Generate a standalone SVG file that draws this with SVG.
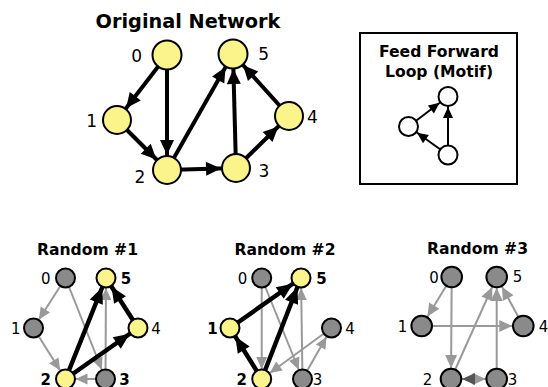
<svg xmlns="http://www.w3.org/2000/svg" width="548" height="387" viewBox="0 0 548 387">
<style>
text{font-family:"DejaVu Sans","Liberation Sans",sans-serif;fill:#000}
.title{font-weight:bold;text-anchor:middle}
.lbl{text-anchor:middle}
.b{font-weight:bold}
.ny{fill:#FAF48A;stroke:#000;stroke-width:2}
.ng{fill:#8A8A8A;stroke:#000;stroke-width:2}
.nw{fill:#fff;stroke:#000;stroke-width:2}
.eo{stroke:#000;stroke-width:4;fill:none;marker-end:url(#mO)}
.em{stroke:#000;stroke-width:2;fill:none;marker-end:url(#mM)}
.eb{stroke:#000;stroke-width:4.5;fill:none;marker-end:url(#mB)}
.eg{stroke:#999;stroke-width:2;fill:none;marker-end:url(#mG)}
.eg3{stroke:#999;stroke-width:2;fill:none;marker-end:url(#mG3)}
.ed3{stroke:#999;stroke-width:2;fill:none;marker-end:url(#mD3)}
</style>
<defs>
<marker id="mO" markerUnits="userSpaceOnUse" markerWidth="15" markerHeight="14" refX="30" refY="7" orient="auto" overflow="visible"><path d="M0,0 L15,7 L0,14 z" fill="#000"/></marker>
<marker id="mM" markerUnits="userSpaceOnUse" markerWidth="11" markerHeight="10" refX="21.5" refY="5" orient="auto" overflow="visible"><path d="M0,0 L11,5 L0,10 z" fill="#000"/></marker>
<marker id="mB" markerUnits="userSpaceOnUse" markerWidth="16" markerHeight="14" refX="26" refY="7" orient="auto" overflow="visible"><path d="M0,0 L16,7 L0,14 z" fill="#000"/></marker>
<marker id="mG" markerUnits="userSpaceOnUse" markerWidth="12" markerHeight="11" refX="22" refY="5.5" orient="auto" overflow="visible"><path d="M0,0 L12,5.5 L0,11 z" fill="#999"/></marker>
<marker id="mG3" markerUnits="userSpaceOnUse" markerWidth="13" markerHeight="12" refX="24" refY="6" orient="auto" overflow="visible"><path d="M0,0 L13,6 L0,12 z" fill="#999"/></marker>
<marker id="mD3" markerUnits="userSpaceOnUse" markerWidth="13" markerHeight="12" refX="24" refY="6" orient="auto" overflow="visible"><path d="M0,0 L13,6 L0,12 z" fill="#555"/></marker>
</defs>

<text class="title" x="188" y="28" font-size="19.3">Original Network</text>
<rect x="360" y="33" width="157" height="151" fill="#fff" stroke="#000" stroke-width="2"/>
<text class="title" x="439" y="56.5" font-size="15.6">Feed Forward</text>
<text class="title" x="439" y="76.5" font-size="15.6">Loop (Motif)</text>
<text class="title" x="87.5" y="255" font-size="15.6">Random #1</text>
<text class="title" x="285" y="255" font-size="15.6">Random #2</text>
<text class="title" x="477.5" y="254" font-size="15.6">Random #3</text>

<g id="connectors">
  <!-- original -->
  <line class="eo" x1="167" y1="55" x2="117" y2="120"/>
  <line class="eo" x1="167" y1="55" x2="167" y2="170"/>
  <line class="eo" x1="117" y1="120" x2="167" y2="170"/>
  <line class="eo" x1="167" y1="170" x2="236" y2="168"/>
  <line class="eo" x1="167" y1="170" x2="233" y2="54"/>
  <line class="eo" x1="236" y1="168" x2="233" y2="54"/>
  <line class="eo" x1="236" y1="168" x2="289" y2="116"/>
  <line class="eo" x1="289" y1="116" x2="233" y2="54"/>
  <!-- motif -->
  <line class="em" x1="448" y1="155" x2="408.5" y2="126.5"/>
  <line class="em" x1="408.5" y1="126.5" x2="448" y2="96.5"/>
  <line class="em" x1="448" y1="155" x2="448" y2="96.5"/>
  <!-- random 1 -->
  <line class="eg" x1="65.5" y1="278" x2="33.5" y2="328"/>
  <line class="eg" x1="33.5" y1="328" x2="65.5" y2="379"/>
  <line class="eg" x1="65.5" y1="278" x2="105.5" y2="379"/>
  <line class="eg" x1="105.5" y1="379" x2="106" y2="278"/>
  <line class="eg" x1="105.5" y1="379" x2="65.5" y2="379"/>
  <line class="eb" x1="65.5" y1="379" x2="106" y2="278"/>
  <line class="eb" x1="65.5" y1="379" x2="138" y2="328"/>
  <line class="eb" x1="138" y1="328" x2="106" y2="278"/>
  <!-- random 2 -->
  <line class="eg" x1="261.7" y1="278" x2="261.7" y2="379"/>
  <line class="eg" x1="261.7" y1="278" x2="302.5" y2="379"/>
  <line class="eg" x1="302.5" y1="379" x2="301" y2="278"/>
  <line class="eg" x1="331.5" y1="328" x2="261.7" y2="379"/>
  <line class="eg" x1="302.5" y1="379" x2="331.5" y2="328"/>
  <line class="eb" x1="261.7" y1="379" x2="230" y2="328"/>
  <line class="eb" x1="230" y1="328" x2="301" y2="278"/>
  <line class="eb" x1="261.7" y1="379" x2="301" y2="278"/>
  <!-- random 3 -->
  <line class="eg3" x1="451.7" y1="277" x2="421.7" y2="326"/>
  <line class="eg3" x1="451.7" y1="277" x2="451" y2="379"/>
  <line class="eg3" x1="421.7" y1="326" x2="523.3" y2="326"/>
  <line class="eg3" x1="451" y1="379" x2="496.7" y2="277"/>
  <line class="eg3" x1="496.7" y1="379" x2="496.7" y2="277"/>
  <line class="eg3" x1="523.3" y1="326" x2="496.7" y2="277"/>
  <line class="eg3" x1="451" y1="379" x2="496.7" y2="379"/>
  <line class="ed3" x1="496.7" y1="379" x2="451" y2="379"/>
</g>

<g id="orig-0"><circle class="ny" cx="167" cy="55" r="14.5"/><text class="lbl" x="136.7" y="62" font-size="17">0</text></g>
<g id="orig-1"><circle class="ny" cx="117" cy="120" r="14"/><text class="lbl" x="91.7" y="126.7" font-size="17">1</text></g>
<g id="orig-2"><circle class="ny" cx="167" cy="170" r="14"/><text class="lbl" x="140" y="182.5" font-size="17">2</text></g>
<g id="orig-3"><circle class="ny" cx="236" cy="168" r="14"/><text class="lbl" x="263.8" y="177.3" font-size="17">3</text></g>
<g id="orig-4"><circle class="ny" cx="289" cy="116" r="14"/><text class="lbl" x="312.3" y="123.3" font-size="17">4</text></g>
<g id="orig-5"><circle class="ny" cx="233" cy="54" r="14.5"/><text class="lbl" x="263.7" y="59.5" font-size="17">5</text></g>

<g id="motif-top"><circle class="nw" cx="448" cy="96.5" r="9.5"/></g>
<g id="motif-left"><circle class="nw" cx="408.5" cy="126.5" r="9.5"/></g>
<g id="motif-bottom"><circle class="nw" cx="448" cy="155" r="9.5"/></g>

<g id="r1-0"><circle class="ng" cx="65.5" cy="278" r="9.5"/><text class="lbl" x="45.8" y="283.5" font-size="15">0</text></g>
<g id="r1-1"><circle class="ng" cx="33.5" cy="328" r="9.5"/><text class="lbl" x="15.8" y="333.5" font-size="15">1</text></g>
<g id="r1-2"><circle class="ny" cx="65.5" cy="379" r="9.5"/><text class="lbl b" x="45.8" y="384.5" font-size="15">2</text></g>
<g id="r1-3"><circle class="ng" cx="105.5" cy="379" r="9.5"/><text class="lbl b" x="124.5" y="384.5" font-size="15">3</text></g>
<g id="r1-4"><circle class="ny" cx="138" cy="328" r="9.5"/><text class="lbl" x="156" y="333.5" font-size="15">4</text></g>
<g id="r1-5"><circle class="ny" cx="106" cy="278" r="9.5"/><text class="lbl b" x="126" y="283.5" font-size="15">5</text></g>

<g id="r2-0"><circle class="ng" cx="261.7" cy="278" r="9.5"/><text class="lbl" x="242.5" y="283.5" font-size="15">0</text></g>
<g id="r2-1"><circle class="ny" cx="230" cy="328" r="9.5"/><text class="lbl b" x="212.5" y="333.5" font-size="15">1</text></g>
<g id="r2-2"><circle class="ny" cx="261.7" cy="379" r="9.5"/><text class="lbl b" x="241.7" y="384.5" font-size="15">2</text></g>
<g id="r2-3"><circle class="ng" cx="302.5" cy="379" r="9.5"/><text class="lbl" x="317.5" y="384.5" font-size="15">3</text></g>
<g id="r2-4"><circle class="ng" cx="331.5" cy="328" r="9.5"/><text class="lbl" x="350" y="333.5" font-size="15">4</text></g>
<g id="r2-5"><circle class="ny" cx="301" cy="278" r="9.5"/><text class="lbl b" x="321.5" y="283.5" font-size="15">5</text></g>

<g id="r3-0"><circle class="ng" cx="451.7" cy="277" r="10.3"/><text class="lbl" x="434" y="282.5" font-size="15">0</text></g>
<g id="r3-1"><circle class="ng" cx="421.7" cy="326" r="10.3"/><text class="lbl" x="402.5" y="331.5" font-size="15">1</text></g>
<g id="r3-2"><circle class="ng" cx="451" cy="379" r="10.3"/><text class="lbl" x="427.5" y="384.5" font-size="15">2</text></g>
<g id="r3-3"><circle class="ng" cx="496.7" cy="379" r="10.3"/><text class="lbl" x="512.5" y="384.5" font-size="15">3</text></g>
<g id="r3-4"><circle class="ng" cx="523.3" cy="326" r="10.3"/><text class="lbl" x="543.5" y="331.5" font-size="15">4</text></g>
<g id="r3-5"><circle class="ng" cx="496.7" cy="277" r="10.3"/><text class="lbl" x="517.5" y="282" font-size="15">5</text></g>
</svg>
